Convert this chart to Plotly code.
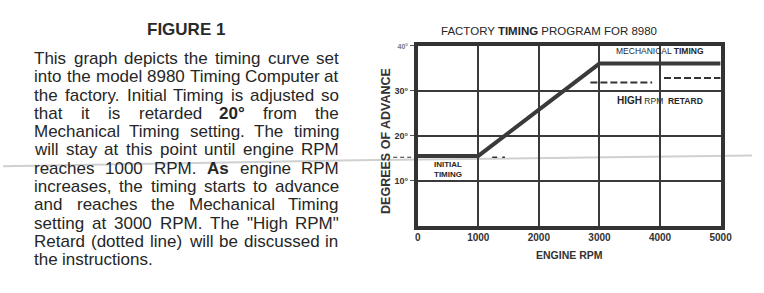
import plotly.graph_objects as go

# ---------------- data ----------------
rpm = [0, 1000, 3000, 5000]
timing_deg = [15.5, 15.5, 36, 36]
retard_rpm = [2850, 3870, None, 4065, 5000]
retard_deg = [31.8, 31.8, None, 32.8, 32.8]
initial_ext_rpm = [1230, 1440]
initial_ext_deg = [15.2, 15.2]
x_tick_vals = [0, 1000, 2000, 3000, 4000, 5000]
x_tick_text = ["0", "1000", "2000", "3000", "4000", "5000"]
y_tick_vals = [10, 20, 30, 40]
y_tick_text = ["10°", "20°", "30°", "<span style='font-size:7px;color:#777'>40°</span>"]

paragraph = [
    "This graph depicts the timing curve set",
    "into the model 8980 Timing Computer at",
    "the factory. Initial Timing is adjusted so",
    "that it is retarded 20° from the",
    "Mechanical Timing setting. The timing",
    "will stay at this point until engine RPM",
    "reaches 1000 RPM. As engine RPM",
    "increases, the timing starts to advance",
    "and reaches the Mechanical Timing",
    "setting at 3000 RPM. The \"High RPM\"",
    "Retard (dotted line) will be discussed in",
    "the instructions.",
]
bold_words = {"20°": 17, "As": 17}

W, H = 764, 293
FONT = "Liberation Sans"
INK = "#262626"

# Arial / Liberation Sans advance widths (1/1000 em)
AW = {' ': 278, '!': 278, '"': 355, "'": 191, '(': 333, ')': 333, ',': 278, '-': 333, '.': 278,
      ':': 278, ';': 278, '°': 400,
      'A': 667, 'B': 667, 'C': 722, 'D': 722, 'E': 667, 'F': 611, 'G': 778, 'H': 722, 'I': 278,
      'J': 500, 'K': 667, 'L': 556, 'M': 833, 'N': 722, 'O': 778, 'P': 667, 'Q': 778, 'R': 722,
      'S': 667, 'T': 611, 'U': 722, 'V': 667, 'W': 944, 'X': 667, 'Y': 667, 'Z': 611,
      'a': 556, 'b': 556, 'c': 500, 'd': 556, 'e': 556, 'f': 278, 'g': 556, 'h': 556, 'i': 222,
      'j': 222, 'k': 500, 'l': 222, 'm': 833, 'n': 556, 'o': 556, 'p': 556, 'q': 556, 'r': 333,
      's': 500, 't': 278, 'u': 556, 'v': 500, 'w': 722, 'x': 500, 'y': 500, 'z': 500}
BW = {'A': 722, 's': 556, '2': 556, '0': 556, '°': 400}


def width(s, size, bold=False):
    tot = 0
    for c in s:
        if bold and c in BW:
            tot += BW[c]
        else:
            tot += AW.get(c, 556)
    return tot * size / 1000.0


def px(x):
    return x / W


def py(y):
    return 1 - y / H


def label(x, y, text, size, color=INK, **kw):
    d = dict(x=px(x), y=py(y), xref="paper", yref="paper", xanchor="center", yanchor="middle",
             showarrow=False, borderpad=0, borderwidth=0, text=text,
             font=dict(family=FONT, size=size, color=color))
    d.update(kw)
    return d


fig = go.Figure()

fig.add_trace(go.Scatter(x=rpm, y=timing_deg, mode="lines",
                         line=dict(color="#3a3a3a", width=4), hoverinfo="skip"))
fig.add_trace(go.Scatter(x=retard_rpm, y=retard_deg, mode="lines",
                         line=dict(color="#333333", width=2, dash="7px,3px"), hoverinfo="skip"))
fig.add_trace(go.Scatter(x=initial_ext_rpm, y=initial_ext_deg, mode="lines",
                         line=dict(color="#333333", width=1.5, dash="5px,5px"), hoverinfo="skip"))

ann = []
# paragraph text, justified
TEXT_SIZE = 17
x_left, x_right = 32, 342
line_y0, line_dy = 56, 18.5
for i, line in enumerate(paragraph):
    words = line.split(" ")
    sizes = [bold_words.get(w, TEXT_SIZE) for w in words]
    bolds = [w in bold_words for w in words]
    widths = [width(w, s, b) for w, s, b in zip(words, sizes, bolds)]
    if i == len(paragraph) - 1:
        gap = width(" ", TEXT_SIZE)
    else:
        gap = (x_right - x_left - sum(widths)) / (len(words) - 1)
    x = x_left
    y = line_y0 + i * line_dy
    for w, s, b, wd in zip(words, sizes, bolds, widths):
        ann.append(label(x, y, ("<b>%s</b>" % w) if b else w, s, xanchor="left"))
        x += wd + gap

ann.append(label(187, 27, "<b>FIGURE 1</b>", 17, "#2a2a2a"))

# chart titles and labels
ann.append(label(557, 28, "FACTORY <b>TIMING</b> PROGRAM FOR 8980", 11.5))
ann.append(label(578, 255, "<b>ENGINE RPM</b>", 10.5, "#333"))
ann.append(label(390, 139, "<b>DEGREES OF ADVANCE</b>", 12.5, "#333", textangle=-90))
ann.append(dict(x=4000, y=38.7, xref="x", yref="y", showarrow=False, xanchor="center",
                yanchor="middle",
                text="MECHANICAL <b>TIMING</b>", font=dict(family=FONT, size=8.5, color=INK)))
ann.append(dict(x=4000, y=27.9, xref="x", yref="y", showarrow=False, xanchor="center",
                yanchor="middle",
                text="<b><span style='font-size:10px'>HIGH</span></b> RPM  <b>RETARD</b>",
                font=dict(family=FONT, size=8.5, color=INK)))
ann.append(dict(x=240, y=12.5, xref="x", yref="y", showarrow=False, xanchor="left",
                yanchor="middle", align="left",
                text="<b>INITIAL<br>TIMING</b>", font=dict(family=FONT, size=8, color=INK)))

fig.update_layout(
    width=W, height=H,
    margin=dict(l=0, r=0, t=0, b=0),
    paper_bgcolor="white", plot_bgcolor="white",
    showlegend=False,
    annotations=ann,
    xaxis=dict(domain=[423 / W, 732 / W], range=[0, 5000], tickvals=x_tick_vals,
               ticktext=x_tick_text, showgrid=True, gridcolor="#3a3a3a", gridwidth=1.5,
               zeroline=False, showline=True, mirror=True, linecolor="#333", linewidth=3.5,
               ticks="", tickfont=dict(family=FONT, size=10, color="#333", weight="bold"),
               fixedrange=True),
    yaxis=dict(domain=[1 - 225 / H, 1 - 43 / H], range=[0, 40], tickvals=y_tick_vals,
               ticktext=y_tick_text, showgrid=True, gridcolor="#3a3a3a", gridwidth=1.5,
               zeroline=False, showline=True, mirror=True, linecolor="#333", linewidth=3.5,
               ticks="outside", ticklen=4, tickwidth=1, tickcolor="#555",
               tickfont=dict(family=FONT, size=9, color="#333", weight="bold"),
               fixedrange=True),
    shapes=[
        dict(type="line", xref="paper", yref="y", x0=px(398), x1=px(417),
             y0=initial_ext_deg[0], y1=initial_ext_deg[0],
             line=dict(color="#333", width=1.2, dash="4px,3px")),
        dict(type="path", xref="paper", yref="paper", layer="below",
             path="M 0 %f L %f %f L 1 %f" % (py(165), px(360), py(159), py(154)),
             line=dict(color="#d0d0d0", width=2)),
    ],
)

fig.write_html("out.html")
